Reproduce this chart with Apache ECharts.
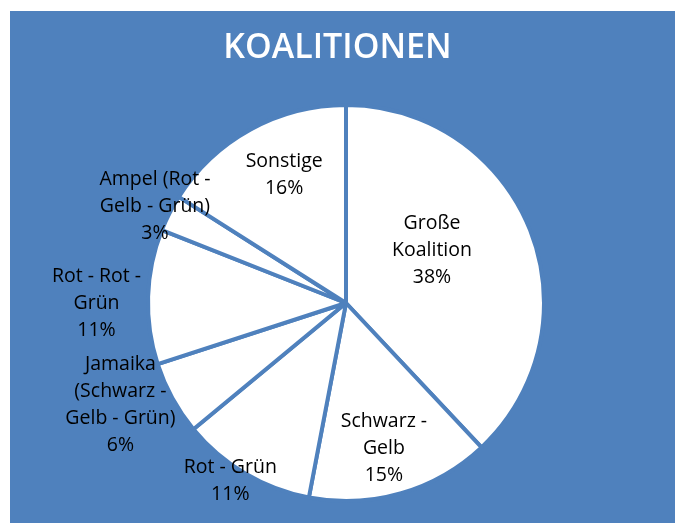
<!DOCTYPE html>
<html>
<head>
<meta charset="utf-8">
<script src="https://cdn.jsdelivr.net/npm/echarts@6/dist/echarts.min.js"></script>
<style>
html,body{margin:0;padding:0;background:#fff;}
#chart{width:675px;height:523px;}
</style>
</head>
<body>
<div id="chart"></div>
<script>
// ---- data ----
const categories = ['Große Koalition', 'Schwarz - Gelb', 'Rot - Grün', 'Jamaika (Schwarz - Gelb - Grün)', 'Rot - Rot - Grün', 'Ampel (Rot - Gelb - Grün)', 'Sonstige'];
const labelNames = ['Große\nKoalition', 'Schwarz -\nGelb', 'Rot - Grün', 'Jamaika\n(Schwarz -\nGelb - Grün)', 'Rot - Rot -\nGrün', 'Ampel (Rot -\nGelb - Grün)', 'Sonstige'];
const shares = [38, 15, 11, 6, 11, 3, 16];
const titleText = 'KOALITIONEN';

// ---- layout / style ----
const BLUE = '#4F81BD';
const CX = 346, CY = 303, R = 198;
// label placement: distance (fraction of radius) and angular shift (deg) from slice mid-angle
const labelDist = [0.51, 0.76, 1.07, 1.25, 1.26, 1.08, 0.72];
const labelShift = [-10, 1.6, 2.5, 4.5, -1.8, -0.3, 3.1];

const total = shares.reduce((a, b) => a + b, 0);
const midAngles = [];
let acc = 0;
shares.forEach(v => { midAngles.push((acc + v / 2) / total * 360); acc += v; });

const chart = echarts.init(document.getElementById('chart'), null, {renderer: 'canvas'});
chart.setOption({
  backgroundColor: '#ffffff',
  animation: false,
  graphic: [{
    type: 'rect', z: -10, silent: true,
    shape: {x: 10, y: 11, width: 700, height: 560},
    style: {fill: BLUE}
  }],
  title: {
    text: titleText,
    left: 'center',
    top: 26,
    textStyle: {color: '#ffffff', fontFamily: 'Open Sans', fontWeight: 600, fontSize: 34}
  },
  series: [{
    type: 'pie',
    center: [CX, CY],
    radius: R,
    startAngle: 90,
    clockwise: true,
    avoidLabelOverlap: false,
    itemStyle: {color: '#ffffff', borderColor: BLUE, borderWidth: 4},
    labelLine: {show: false},
    label: {
      show: true,
      position: 'inside',
      color: '#000000',
      fontFamily: 'Open Sans',
      fontSize: 19.5,
      lineHeight: 27,
      align: 'center',
      formatter: p => labelNames[p.dataIndex] + '\n' + Math.round(p.percent) + '%'
    },
    labelLayout: function (p) {
      const i = p.dataIndex;
      const a = (midAngles[i] + labelShift[i]) * Math.PI / 180;
      const d = labelDist[i] * R;
      return {
        x: CX + d * Math.sin(a),
        y: CY - d * Math.cos(a),
        align: 'center',
        verticalAlign: 'middle'
      };
    },
    emphasis: {disabled: true},
    data: categories.map((c, i) => ({name: c, value: shares[i]}))
  }]
});
</script>
</body>
</html>
